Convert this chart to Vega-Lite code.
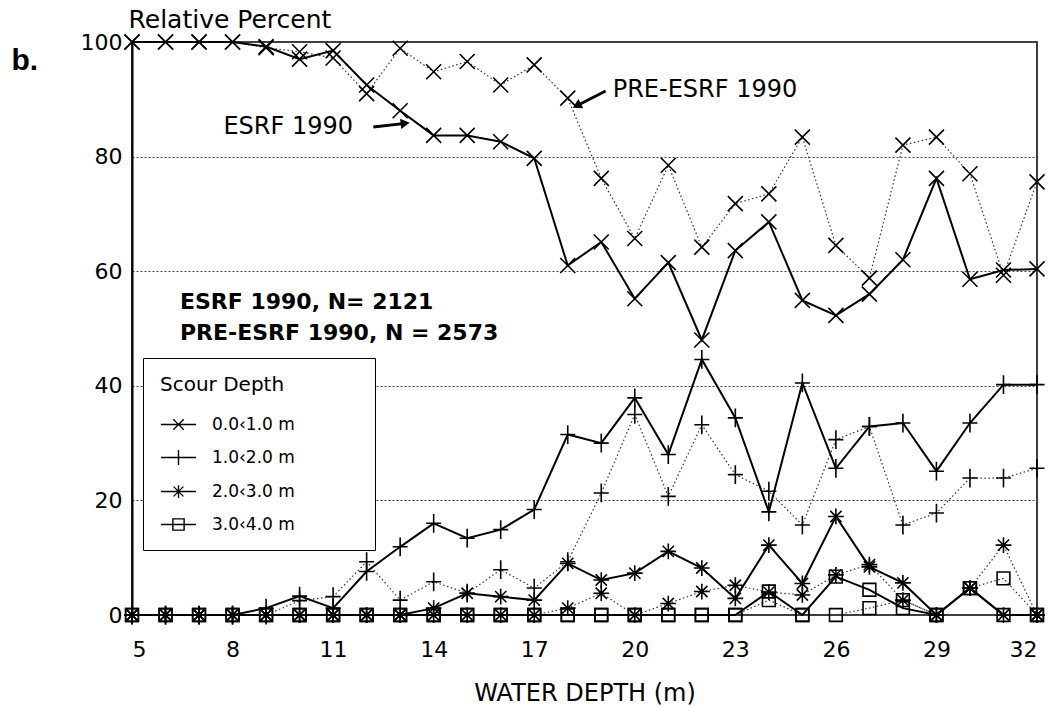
{
  "$schema": "https://vega.github.io/schema/vega-lite/v6.json",
  "width": 905,
  "height": 573,
  "autosize": {"type": "none"},
  "padding": {"left": 132, "top": 42, "right": 20, "bottom": 92},
  "background": "white",
  "config": {
    "font": "DejaVu Sans",
    "view": {"stroke": "black", "strokeWidth": 1.5},
    "axis": {"labelColor": "black", "titleColor": "black", "titleFontWeight": "normal"}
  },
  "data": {"values": [
    {"depth":5,"percent":100,"survey":"ESRF 1990","scour":"0.0‹1.0 m"},
    {"depth":6,"percent":100,"survey":"ESRF 1990","scour":"0.0‹1.0 m"},
    {"depth":7,"percent":100,"survey":"ESRF 1990","scour":"0.0‹1.0 m"},
    {"depth":8,"percent":100,"survey":"ESRF 1990","scour":"0.0‹1.0 m"},
    {"depth":9,"percent":99.2,"survey":"ESRF 1990","scour":"0.0‹1.0 m"},
    {"depth":10,"percent":97,"survey":"ESRF 1990","scour":"0.0‹1.0 m"},
    {"depth":11,"percent":98.5,"survey":"ESRF 1990","scour":"0.0‹1.0 m"},
    {"depth":12,"percent":92.5,"survey":"ESRF 1990","scour":"0.0‹1.0 m"},
    {"depth":13,"percent":88,"survey":"ESRF 1990","scour":"0.0‹1.0 m"},
    {"depth":14,"percent":83.7,"survey":"ESRF 1990","scour":"0.0‹1.0 m"},
    {"depth":15,"percent":83.7,"survey":"ESRF 1990","scour":"0.0‹1.0 m"},
    {"depth":16,"percent":82.6,"survey":"ESRF 1990","scour":"0.0‹1.0 m"},
    {"depth":17,"percent":79.7,"survey":"ESRF 1990","scour":"0.0‹1.0 m"},
    {"depth":18,"percent":61,"survey":"ESRF 1990","scour":"0.0‹1.0 m"},
    {"depth":19,"percent":65.1,"survey":"ESRF 1990","scour":"0.0‹1.0 m"},
    {"depth":20,"percent":55.2,"survey":"ESRF 1990","scour":"0.0‹1.0 m"},
    {"depth":21,"percent":61.5,"survey":"ESRF 1990","scour":"0.0‹1.0 m"},
    {"depth":22,"percent":48,"survey":"ESRF 1990","scour":"0.0‹1.0 m"},
    {"depth":23,"percent":63.6,"survey":"ESRF 1990","scour":"0.0‹1.0 m"},
    {"depth":24,"percent":68.6,"survey":"ESRF 1990","scour":"0.0‹1.0 m"},
    {"depth":25,"percent":54.9,"survey":"ESRF 1990","scour":"0.0‹1.0 m"},
    {"depth":26,"percent":52.3,"survey":"ESRF 1990","scour":"0.0‹1.0 m"},
    {"depth":27,"percent":56,"survey":"ESRF 1990","scour":"0.0‹1.0 m"},
    {"depth":28,"percent":62,"survey":"ESRF 1990","scour":"0.0‹1.0 m"},
    {"depth":29,"percent":76.2,"survey":"ESRF 1990","scour":"0.0‹1.0 m"},
    {"depth":30,"percent":58.6,"survey":"ESRF 1990","scour":"0.0‹1.0 m"},
    {"depth":31,"percent":60.2,"survey":"ESRF 1990","scour":"0.0‹1.0 m"},
    {"depth":32,"percent":60.4,"survey":"ESRF 1990","scour":"0.0‹1.0 m"},
    {"depth":5,"percent":100,"survey":"PRE-ESRF 1990","scour":"0.0‹1.0 m"},
    {"depth":6,"percent":100,"survey":"PRE-ESRF 1990","scour":"0.0‹1.0 m"},
    {"depth":7,"percent":100,"survey":"PRE-ESRF 1990","scour":"0.0‹1.0 m"},
    {"depth":8,"percent":100,"survey":"PRE-ESRF 1990","scour":"0.0‹1.0 m"},
    {"depth":9,"percent":99,"survey":"PRE-ESRF 1990","scour":"0.0‹1.0 m"},
    {"depth":10,"percent":98.3,"survey":"PRE-ESRF 1990","scour":"0.0‹1.0 m"},
    {"depth":11,"percent":97.2,"survey":"PRE-ESRF 1990","scour":"0.0‹1.0 m"},
    {"depth":12,"percent":91,"survey":"PRE-ESRF 1990","scour":"0.0‹1.0 m"},
    {"depth":13,"percent":98.9,"survey":"PRE-ESRF 1990","scour":"0.0‹1.0 m"},
    {"depth":14,"percent":94.8,"survey":"PRE-ESRF 1990","scour":"0.0‹1.0 m"},
    {"depth":15,"percent":96.6,"survey":"PRE-ESRF 1990","scour":"0.0‹1.0 m"},
    {"depth":16,"percent":92.5,"survey":"PRE-ESRF 1990","scour":"0.0‹1.0 m"},
    {"depth":17,"percent":96,"survey":"PRE-ESRF 1990","scour":"0.0‹1.0 m"},
    {"depth":18,"percent":90.2,"survey":"PRE-ESRF 1990","scour":"0.0‹1.0 m"},
    {"depth":19,"percent":76.2,"survey":"PRE-ESRF 1990","scour":"0.0‹1.0 m"},
    {"depth":20,"percent":65.7,"survey":"PRE-ESRF 1990","scour":"0.0‹1.0 m"},
    {"depth":21,"percent":78.5,"survey":"PRE-ESRF 1990","scour":"0.0‹1.0 m"},
    {"depth":22,"percent":64.2,"survey":"PRE-ESRF 1990","scour":"0.0‹1.0 m"},
    {"depth":23,"percent":71.8,"survey":"PRE-ESRF 1990","scour":"0.0‹1.0 m"},
    {"depth":24,"percent":73.5,"survey":"PRE-ESRF 1990","scour":"0.0‹1.0 m"},
    {"depth":25,"percent":83.4,"survey":"PRE-ESRF 1990","scour":"0.0‹1.0 m"},
    {"depth":26,"percent":64.5,"survey":"PRE-ESRF 1990","scour":"0.0‹1.0 m"},
    {"depth":27,"percent":58.8,"survey":"PRE-ESRF 1990","scour":"0.0‹1.0 m"},
    {"depth":28,"percent":82,"survey":"PRE-ESRF 1990","scour":"0.0‹1.0 m"},
    {"depth":29,"percent":83.4,"survey":"PRE-ESRF 1990","scour":"0.0‹1.0 m"},
    {"depth":30,"percent":77,"survey":"PRE-ESRF 1990","scour":"0.0‹1.0 m"},
    {"depth":31,"percent":59.3,"survey":"PRE-ESRF 1990","scour":"0.0‹1.0 m"},
    {"depth":32,"percent":75.6,"survey":"PRE-ESRF 1990","scour":"0.0‹1.0 m"},
    {"depth":5,"percent":0,"survey":"ESRF 1990","scour":"1.0‹2.0 m"},
    {"depth":6,"percent":0,"survey":"ESRF 1990","scour":"1.0‹2.0 m"},
    {"depth":7,"percent":0,"survey":"ESRF 1990","scour":"1.0‹2.0 m"},
    {"depth":8,"percent":0,"survey":"ESRF 1990","scour":"1.0‹2.0 m"},
    {"depth":9,"percent":1.2,"survey":"ESRF 1990","scour":"1.0‹2.0 m"},
    {"depth":10,"percent":3.3,"survey":"ESRF 1990","scour":"1.0‹2.0 m"},
    {"depth":11,"percent":1.2,"survey":"ESRF 1990","scour":"1.0‹2.0 m"},
    {"depth":12,"percent":7.6,"survey":"ESRF 1990","scour":"1.0‹2.0 m"},
    {"depth":13,"percent":11.9,"survey":"ESRF 1990","scour":"1.0‹2.0 m"},
    {"depth":14,"percent":16,"survey":"ESRF 1990","scour":"1.0‹2.0 m"},
    {"depth":15,"percent":13.4,"survey":"ESRF 1990","scour":"1.0‹2.0 m"},
    {"depth":16,"percent":14.9,"survey":"ESRF 1990","scour":"1.0‹2.0 m"},
    {"depth":17,"percent":18.4,"survey":"ESRF 1990","scour":"1.0‹2.0 m"},
    {"depth":18,"percent":31.5,"survey":"ESRF 1990","scour":"1.0‹2.0 m"},
    {"depth":19,"percent":30,"survey":"ESRF 1990","scour":"1.0‹2.0 m"},
    {"depth":20,"percent":37.9,"survey":"ESRF 1990","scour":"1.0‹2.0 m"},
    {"depth":21,"percent":28,"survey":"ESRF 1990","scour":"1.0‹2.0 m"},
    {"depth":22,"percent":44.6,"survey":"ESRF 1990","scour":"1.0‹2.0 m"},
    {"depth":23,"percent":34.4,"survey":"ESRF 1990","scour":"1.0‹2.0 m"},
    {"depth":24,"percent":18,"survey":"ESRF 1990","scour":"1.0‹2.0 m"},
    {"depth":25,"percent":40.5,"survey":"ESRF 1990","scour":"1.0‹2.0 m"},
    {"depth":26,"percent":25.6,"survey":"ESRF 1990","scour":"1.0‹2.0 m"},
    {"depth":27,"percent":32.9,"survey":"ESRF 1990","scour":"1.0‹2.0 m"},
    {"depth":28,"percent":33.5,"survey":"ESRF 1990","scour":"1.0‹2.0 m"},
    {"depth":29,"percent":25.1,"survey":"ESRF 1990","scour":"1.0‹2.0 m"},
    {"depth":30,"percent":33.5,"survey":"ESRF 1990","scour":"1.0‹2.0 m"},
    {"depth":31,"percent":40.2,"survey":"ESRF 1990","scour":"1.0‹2.0 m"},
    {"depth":32,"percent":40.2,"survey":"ESRF 1990","scour":"1.0‹2.0 m"},
    {"depth":5,"percent":0,"survey":"PRE-ESRF 1990","scour":"1.0‹2.0 m"},
    {"depth":6,"percent":0,"survey":"PRE-ESRF 1990","scour":"1.0‹2.0 m"},
    {"depth":7,"percent":0,"survey":"PRE-ESRF 1990","scour":"1.0‹2.0 m"},
    {"depth":8,"percent":0,"survey":"PRE-ESRF 1990","scour":"1.0‹2.0 m"},
    {"depth":9,"percent":0,"survey":"PRE-ESRF 1990","scour":"1.0‹2.0 m"},
    {"depth":10,"percent":2.5,"survey":"PRE-ESRF 1990","scour":"1.0‹2.0 m"},
    {"depth":11,"percent":3.2,"survey":"PRE-ESRF 1990","scour":"1.0‹2.0 m"},
    {"depth":12,"percent":9.3,"survey":"PRE-ESRF 1990","scour":"1.0‹2.0 m"},
    {"depth":13,"percent":2.6,"survey":"PRE-ESRF 1990","scour":"1.0‹2.0 m"},
    {"depth":14,"percent":5.8,"survey":"PRE-ESRF 1990","scour":"1.0‹2.0 m"},
    {"depth":15,"percent":3.8,"survey":"PRE-ESRF 1990","scour":"1.0‹2.0 m"},
    {"depth":16,"percent":7.9,"survey":"PRE-ESRF 1990","scour":"1.0‹2.0 m"},
    {"depth":17,"percent":4.7,"survey":"PRE-ESRF 1990","scour":"1.0‹2.0 m"},
    {"depth":18,"percent":9.3,"survey":"PRE-ESRF 1990","scour":"1.0‹2.0 m"},
    {"depth":19,"percent":21.3,"survey":"PRE-ESRF 1990","scour":"1.0‹2.0 m"},
    {"depth":20,"percent":35,"survey":"PRE-ESRF 1990","scour":"1.0‹2.0 m"},
    {"depth":21,"percent":20.7,"survey":"PRE-ESRF 1990","scour":"1.0‹2.0 m"},
    {"depth":22,"percent":33.2,"survey":"PRE-ESRF 1990","scour":"1.0‹2.0 m"},
    {"depth":23,"percent":24.5,"survey":"PRE-ESRF 1990","scour":"1.0‹2.0 m"},
    {"depth":24,"percent":21.6,"survey":"PRE-ESRF 1990","scour":"1.0‹2.0 m"},
    {"depth":25,"percent":15.7,"survey":"PRE-ESRF 1990","scour":"1.0‹2.0 m"},
    {"depth":26,"percent":30.6,"survey":"PRE-ESRF 1990","scour":"1.0‹2.0 m"},
    {"depth":27,"percent":32.9,"survey":"PRE-ESRF 1990","scour":"1.0‹2.0 m"},
    {"depth":28,"percent":15.7,"survey":"PRE-ESRF 1990","scour":"1.0‹2.0 m"},
    {"depth":29,"percent":17.8,"survey":"PRE-ESRF 1990","scour":"1.0‹2.0 m"},
    {"depth":30,"percent":23.9,"survey":"PRE-ESRF 1990","scour":"1.0‹2.0 m"},
    {"depth":31,"percent":23.9,"survey":"PRE-ESRF 1990","scour":"1.0‹2.0 m"},
    {"depth":32,"percent":25.6,"survey":"PRE-ESRF 1990","scour":"1.0‹2.0 m"},
    {"depth":5,"percent":0,"survey":"ESRF 1990","scour":"2.0‹3.0 m"},
    {"depth":6,"percent":0,"survey":"ESRF 1990","scour":"2.0‹3.0 m"},
    {"depth":7,"percent":0,"survey":"ESRF 1990","scour":"2.0‹3.0 m"},
    {"depth":8,"percent":0,"survey":"ESRF 1990","scour":"2.0‹3.0 m"},
    {"depth":9,"percent":0,"survey":"ESRF 1990","scour":"2.0‹3.0 m"},
    {"depth":10,"percent":0,"survey":"ESRF 1990","scour":"2.0‹3.0 m"},
    {"depth":11,"percent":0,"survey":"ESRF 1990","scour":"2.0‹3.0 m"},
    {"depth":12,"percent":0,"survey":"ESRF 1990","scour":"2.0‹3.0 m"},
    {"depth":13,"percent":0,"survey":"ESRF 1990","scour":"2.0‹3.0 m"},
    {"depth":14,"percent":1.2,"survey":"ESRF 1990","scour":"2.0‹3.0 m"},
    {"depth":15,"percent":3.8,"survey":"ESRF 1990","scour":"2.0‹3.0 m"},
    {"depth":16,"percent":3.2,"survey":"ESRF 1990","scour":"2.0‹3.0 m"},
    {"depth":17,"percent":2.6,"survey":"ESRF 1990","scour":"2.0‹3.0 m"},
    {"depth":18,"percent":9,"survey":"ESRF 1990","scour":"2.0‹3.0 m"},
    {"depth":19,"percent":6.1,"survey":"ESRF 1990","scour":"2.0‹3.0 m"},
    {"depth":20,"percent":7.3,"survey":"ESRF 1990","scour":"2.0‹3.0 m"},
    {"depth":21,"percent":11.1,"survey":"ESRF 1990","scour":"2.0‹3.0 m"},
    {"depth":22,"percent":8.2,"survey":"ESRF 1990","scour":"2.0‹3.0 m"},
    {"depth":23,"percent":2.9,"survey":"ESRF 1990","scour":"2.0‹3.0 m"},
    {"depth":24,"percent":12.2,"survey":"ESRF 1990","scour":"2.0‹3.0 m"},
    {"depth":25,"percent":5.5,"survey":"ESRF 1990","scour":"2.0‹3.0 m"},
    {"depth":26,"percent":17.2,"survey":"ESRF 1990","scour":"2.0‹3.0 m"},
    {"depth":27,"percent":8.4,"survey":"ESRF 1990","scour":"2.0‹3.0 m"},
    {"depth":28,"percent":5.6,"survey":"ESRF 1990","scour":"2.0‹3.0 m"},
    {"depth":29,"percent":0,"survey":"ESRF 1990","scour":"2.0‹3.0 m"},
    {"depth":30,"percent":4.7,"survey":"ESRF 1990","scour":"2.0‹3.0 m"},
    {"depth":31,"percent":0,"survey":"ESRF 1990","scour":"2.0‹3.0 m"},
    {"depth":32,"percent":0,"survey":"ESRF 1990","scour":"2.0‹3.0 m"},
    {"depth":5,"percent":0,"survey":"PRE-ESRF 1990","scour":"2.0‹3.0 m"},
    {"depth":6,"percent":0,"survey":"PRE-ESRF 1990","scour":"2.0‹3.0 m"},
    {"depth":7,"percent":0,"survey":"PRE-ESRF 1990","scour":"2.0‹3.0 m"},
    {"depth":8,"percent":0,"survey":"PRE-ESRF 1990","scour":"2.0‹3.0 m"},
    {"depth":9,"percent":0,"survey":"PRE-ESRF 1990","scour":"2.0‹3.0 m"},
    {"depth":10,"percent":0,"survey":"PRE-ESRF 1990","scour":"2.0‹3.0 m"},
    {"depth":11,"percent":0,"survey":"PRE-ESRF 1990","scour":"2.0‹3.0 m"},
    {"depth":12,"percent":0,"survey":"PRE-ESRF 1990","scour":"2.0‹3.0 m"},
    {"depth":13,"percent":0,"survey":"PRE-ESRF 1990","scour":"2.0‹3.0 m"},
    {"depth":14,"percent":0,"survey":"PRE-ESRF 1990","scour":"2.0‹3.0 m"},
    {"depth":15,"percent":0,"survey":"PRE-ESRF 1990","scour":"2.0‹3.0 m"},
    {"depth":16,"percent":0,"survey":"PRE-ESRF 1990","scour":"2.0‹3.0 m"},
    {"depth":17,"percent":0,"survey":"PRE-ESRF 1990","scour":"2.0‹3.0 m"},
    {"depth":18,"percent":1.2,"survey":"PRE-ESRF 1990","scour":"2.0‹3.0 m"},
    {"depth":19,"percent":3.8,"survey":"PRE-ESRF 1990","scour":"2.0‹3.0 m"},
    {"depth":20,"percent":0,"survey":"PRE-ESRF 1990","scour":"2.0‹3.0 m"},
    {"depth":21,"percent":2,"survey":"PRE-ESRF 1990","scour":"2.0‹3.0 m"},
    {"depth":22,"percent":4.1,"survey":"PRE-ESRF 1990","scour":"2.0‹3.0 m"},
    {"depth":23,"percent":5.2,"survey":"PRE-ESRF 1990","scour":"2.0‹3.0 m"},
    {"depth":24,"percent":4,"survey":"PRE-ESRF 1990","scour":"2.0‹3.0 m"},
    {"depth":25,"percent":3.5,"survey":"PRE-ESRF 1990","scour":"2.0‹3.0 m"},
    {"depth":26,"percent":7,"survey":"PRE-ESRF 1990","scour":"2.0‹3.0 m"},
    {"depth":27,"percent":8.8,"survey":"PRE-ESRF 1990","scour":"2.0‹3.0 m"},
    {"depth":28,"percent":2.6,"survey":"PRE-ESRF 1990","scour":"2.0‹3.0 m"},
    {"depth":29,"percent":0,"survey":"PRE-ESRF 1990","scour":"2.0‹3.0 m"},
    {"depth":30,"percent":4.7,"survey":"PRE-ESRF 1990","scour":"2.0‹3.0 m"},
    {"depth":31,"percent":12.2,"survey":"PRE-ESRF 1990","scour":"2.0‹3.0 m"},
    {"depth":32,"percent":0,"survey":"PRE-ESRF 1990","scour":"2.0‹3.0 m"},
    {"depth":5,"percent":0,"survey":"ESRF 1990","scour":"3.0‹4.0 m"},
    {"depth":6,"percent":0,"survey":"ESRF 1990","scour":"3.0‹4.0 m"},
    {"depth":7,"percent":0,"survey":"ESRF 1990","scour":"3.0‹4.0 m"},
    {"depth":8,"percent":0,"survey":"ESRF 1990","scour":"3.0‹4.0 m"},
    {"depth":9,"percent":0,"survey":"ESRF 1990","scour":"3.0‹4.0 m"},
    {"depth":10,"percent":0,"survey":"ESRF 1990","scour":"3.0‹4.0 m"},
    {"depth":11,"percent":0,"survey":"ESRF 1990","scour":"3.0‹4.0 m"},
    {"depth":12,"percent":0,"survey":"ESRF 1990","scour":"3.0‹4.0 m"},
    {"depth":13,"percent":0,"survey":"ESRF 1990","scour":"3.0‹4.0 m"},
    {"depth":14,"percent":0,"survey":"ESRF 1990","scour":"3.0‹4.0 m"},
    {"depth":15,"percent":0,"survey":"ESRF 1990","scour":"3.0‹4.0 m"},
    {"depth":16,"percent":0,"survey":"ESRF 1990","scour":"3.0‹4.0 m"},
    {"depth":17,"percent":0,"survey":"ESRF 1990","scour":"3.0‹4.0 m"},
    {"depth":18,"percent":0,"survey":"ESRF 1990","scour":"3.0‹4.0 m"},
    {"depth":19,"percent":0,"survey":"ESRF 1990","scour":"3.0‹4.0 m"},
    {"depth":20,"percent":0,"survey":"ESRF 1990","scour":"3.0‹4.0 m"},
    {"depth":21,"percent":0,"survey":"ESRF 1990","scour":"3.0‹4.0 m"},
    {"depth":22,"percent":0,"survey":"ESRF 1990","scour":"3.0‹4.0 m"},
    {"depth":23,"percent":0,"survey":"ESRF 1990","scour":"3.0‹4.0 m"},
    {"depth":24,"percent":4.1,"survey":"ESRF 1990","scour":"3.0‹4.0 m"},
    {"depth":25,"percent":0,"survey":"ESRF 1990","scour":"3.0‹4.0 m"},
    {"depth":26,"percent":6.7,"survey":"ESRF 1990","scour":"3.0‹4.0 m"},
    {"depth":27,"percent":4.4,"survey":"ESRF 1990","scour":"3.0‹4.0 m"},
    {"depth":28,"percent":1.2,"survey":"ESRF 1990","scour":"3.0‹4.0 m"},
    {"depth":29,"percent":0,"survey":"ESRF 1990","scour":"3.0‹4.0 m"},
    {"depth":30,"percent":4.7,"survey":"ESRF 1990","scour":"3.0‹4.0 m"},
    {"depth":31,"percent":0,"survey":"ESRF 1990","scour":"3.0‹4.0 m"},
    {"depth":32,"percent":0,"survey":"ESRF 1990","scour":"3.0‹4.0 m"},
    {"depth":5,"percent":0,"survey":"PRE-ESRF 1990","scour":"3.0‹4.0 m"},
    {"depth":6,"percent":0,"survey":"PRE-ESRF 1990","scour":"3.0‹4.0 m"},
    {"depth":7,"percent":0,"survey":"PRE-ESRF 1990","scour":"3.0‹4.0 m"},
    {"depth":8,"percent":0,"survey":"PRE-ESRF 1990","scour":"3.0‹4.0 m"},
    {"depth":9,"percent":0,"survey":"PRE-ESRF 1990","scour":"3.0‹4.0 m"},
    {"depth":10,"percent":0,"survey":"PRE-ESRF 1990","scour":"3.0‹4.0 m"},
    {"depth":11,"percent":0,"survey":"PRE-ESRF 1990","scour":"3.0‹4.0 m"},
    {"depth":12,"percent":0,"survey":"PRE-ESRF 1990","scour":"3.0‹4.0 m"},
    {"depth":13,"percent":0,"survey":"PRE-ESRF 1990","scour":"3.0‹4.0 m"},
    {"depth":14,"percent":0,"survey":"PRE-ESRF 1990","scour":"3.0‹4.0 m"},
    {"depth":15,"percent":0,"survey":"PRE-ESRF 1990","scour":"3.0‹4.0 m"},
    {"depth":16,"percent":0,"survey":"PRE-ESRF 1990","scour":"3.0‹4.0 m"},
    {"depth":17,"percent":0,"survey":"PRE-ESRF 1990","scour":"3.0‹4.0 m"},
    {"depth":18,"percent":0,"survey":"PRE-ESRF 1990","scour":"3.0‹4.0 m"},
    {"depth":19,"percent":0,"survey":"PRE-ESRF 1990","scour":"3.0‹4.0 m"},
    {"depth":20,"percent":0,"survey":"PRE-ESRF 1990","scour":"3.0‹4.0 m"},
    {"depth":21,"percent":0,"survey":"PRE-ESRF 1990","scour":"3.0‹4.0 m"},
    {"depth":22,"percent":0,"survey":"PRE-ESRF 1990","scour":"3.0‹4.0 m"},
    {"depth":23,"percent":0,"survey":"PRE-ESRF 1990","scour":"3.0‹4.0 m"},
    {"depth":24,"percent":2.6,"survey":"PRE-ESRF 1990","scour":"3.0‹4.0 m"},
    {"depth":25,"percent":0,"survey":"PRE-ESRF 1990","scour":"3.0‹4.0 m"},
    {"depth":26,"percent":0,"survey":"PRE-ESRF 1990","scour":"3.0‹4.0 m"},
    {"depth":27,"percent":1.2,"survey":"PRE-ESRF 1990","scour":"3.0‹4.0 m"},
    {"depth":28,"percent":2.6,"survey":"PRE-ESRF 1990","scour":"3.0‹4.0 m"},
    {"depth":29,"percent":0,"survey":"PRE-ESRF 1990","scour":"3.0‹4.0 m"},
    {"depth":30,"percent":4.7,"survey":"PRE-ESRF 1990","scour":"3.0‹4.0 m"},
    {"depth":31,"percent":6.4,"survey":"PRE-ESRF 1990","scour":"3.0‹4.0 m"},
    {"depth":32,"percent":0,"survey":"PRE-ESRF 1990","scour":"3.0‹4.0 m"}
  ]},
  "layer": [
    {
      "transform": [{"filter": "datum.survey === 'PRE-ESRF 1990'"}],
      "mark": {"type": "line", "color": "#333333", "strokeWidth": 1.2, "strokeDash": [1.5, 2.5]},
      "encoding": {
        "x": {"field": "depth", "type": "quantitative", "scale": {"domain": [5, 32], "nice": false, "zero": false},
          "axis": {"values": [5, 8, 11, 14, 17, 20, 23, 26, 29, 32], "grid": false, "ticks": false, "tickSize": 0, "domain": false,
            "labelFontSize": 22, "labelPadding": 24, "labelFont": "DejaVu Sans",
            "title": "WATER DEPTH (m)", "titleFontSize": 24, "titleFont": "DejaVu Sans", "titleBaseline": "alphabetic", "titleY": 85}},
        "y": {"field": "percent", "type": "quantitative", "scale": {"domain": [0, 100], "nice": false},
          "axis": {"values": [0, 20, 40, 60, 80, 100], "grid": true, "gridDash": [2, 2], "gridColor": "#444444", "gridWidth": 1,
            "ticks": false, "tickSize": 0, "domain": true, "domainColor": "black", "domainWidth": 2,
            "labelFontSize": 22, "labelPadding": 10, "labelFont": "DejaVu Sans",
            "title": "Relative Percent", "titleAngle": 0, "titleAlign": "left", "titleBaseline": "alphabetic",
            "titleX": -4, "titleY": -15, "titleFontSize": 25, "titleFont": "DejaVu Sans"}},
        "detail": {"field": "scour"}
      }
    },
    {
      "transform": [{"filter": "datum.survey === 'ESRF 1990'"}],
      "mark": {"type": "line", "color": "black", "strokeWidth": 2},
      "encoding": {
        "x": {"field": "depth", "type": "quantitative"},
        "y": {"field": "percent", "type": "quantitative"},
        "detail": {"field": "scour"}
      }
    },
    {
      "mark": {"type": "point", "filled": false, "stroke": "black", "strokeWidth": 1.6, "size": 225, "opacity": 1},
      "encoding": {
        "x": {"field": "depth", "type": "quantitative"},
        "y": {"field": "percent", "type": "quantitative"},
        "shape": {"field": "scour", "type": "nominal", "legend": null,
          "scale": {"domain": ["0.0‹1.0 m", "1.0‹2.0 m", "2.0‹3.0 m", "3.0‹4.0 m"],
            "range": ["M-1,-1L1,1M-1,1L1,-1", "M-1,0L1,0M0,-1.25L0,1.25", "M-1.05,0L1.05,0M0,-1.05L0,1.05M-0.75,-0.75L0.75,0.75M-0.75,0.75L0.75,-0.75", "M-0.85,-0.85L0.85,-0.85L0.85,0.85L-0.85,0.85Z"]}}
      }
    },
    {
      "transform": [{"filter": "datum.depth === 5 && datum.survey === 'ESRF 1990'"}],
      "mark": {"type": "point", "filled": false, "stroke": "black", "strokeWidth": 1.4, "size": 225, "opacity": 0},
      "encoding": {
        "x": {"field": "depth", "type": "quantitative"},
        "y": {"field": "percent", "type": "quantitative"},
        "shape": {"field": "scour", "type": "nominal",
          "scale": {"domain": ["0.0‹1.0 m", "1.0‹2.0 m", "2.0‹3.0 m", "3.0‹4.0 m"],
            "range": ["M-2.35,0L2.35,0M-0.7,-0.7L0.7,0.7M-0.7,0.7L0.7,-0.7", "M-2.35,0L2.35,0M0,-1L0,1", "M-2.35,0L2.35,0M0,-0.85L0,0.85M-0.65,-0.65L0.65,0.65M-0.65,0.65L0.65,-0.65", "M-2.35,0L2.35,0M-0.75,-0.75L0.75,-0.75L0.75,0.75L-0.75,0.75Z"]},
          "legend": {
            "title": "Scour Depth",
            "titleLimit": 400,
            "labelLimit": 400,
            "labelExpr": "datum.label + '\u2800\u2800\u2800\u2800\u2800'",
            "orient": "none", "legendX": 11, "legendY": 316,
            "strokeColor": "black", "padding": 17, "fillColor": "white",
            "titleFont": "DejaVu Sans", "titleFontSize": 20, "titleFontWeight": "normal", "titleColor": "black", "titlePadding": 21,
            "labelFont": "DejaVu Sans", "labelFontSize": 17, "labelColor": "black",
            "symbolSize": 225, "symbolStrokeWidth": 1.4, "symbolStrokeColor": "black", "symbolFillColor": "transparent", "symbolOpacity": 1,
            "symbolOffset": 10, "labelOffset": 25, "rowPadding": 14
          }}
      }
    },
    {
      "data": {"values": [{"label": "ESRF 1990"}]},
      "mark": {"type": "text", "fontSize": 24, "align": "center", "baseline": "middle", "color": "black", "font": "DejaVu Sans"},
      "encoding": {"x": {"datum": 9.66}, "y": {"datum": 85.2}, "text": {"field": "label"}}
    },
    {
      "data": {"values": [{"label": "ESRF 1990 arrow"}]},
      "mark": {"type": "rule", "color": "black", "strokeWidth": 3},
      "encoding": {"x": {"datum": 12.2}, "y": {"datum": 85.17}, "x2": {"datum": 13.15}, "y2": {"datum": 85.8}}
    },
    {
      "data": {"values": [{"label": "ESRF 1990 arrow"}]},
      "mark": {"type": "point", "shape": "triangle-right", "filled": true, "color": "black", "size": 110, "angle": -7, "opacity": 1},
      "encoding": {"x": {"datum": 13.15}, "y": {"datum": 85.8}}
    },
    {
      "data": {"values": [{"label": "PRE-ESRF 1990"}]},
      "mark": {"type": "text", "fontSize": 24, "align": "left", "baseline": "middle", "color": "black", "font": "DejaVu Sans"},
      "encoding": {"x": {"datum": 19.34}, "y": {"datum": 91.6}, "text": {"field": "label"}}
    },
    {
      "data": {"values": [{"label": "PRE-ESRF 1990 arrow"}]},
      "mark": {"type": "rule", "color": "black", "strokeWidth": 3},
      "encoding": {"x": {"datum": 19.13}, "y": {"datum": 91.45}, "x2": {"datum": 18.27}, "y2": {"datum": 88.88}}
    },
    {
      "data": {"values": [{"label": "PRE-ESRF 1990 arrow"}]},
      "mark": {"type": "point", "shape": "triangle-right", "filled": true, "color": "black", "size": 110, "angle": 152.7, "opacity": 1},
      "encoding": {"x": {"datum": 18.27}, "y": {"datum": 88.88}}
    },
    {
      "data": {"values": [{"label": "ESRF 1990, N= 2121"}]},
      "mark": {"type": "text", "fontSize": 22, "fontWeight": "bold", "align": "left", "baseline": "middle", "color": "black", "font": "DejaVu Sans"},
      "encoding": {"x": {"datum": 6.43}, "y": {"datum": 54.6}, "text": {"field": "label"}}
    },
    {
      "data": {"values": [{"label": "PRE-ESRF 1990, N = 2573"}]},
      "mark": {"type": "text", "fontSize": 22, "fontWeight": "bold", "align": "left", "baseline": "middle", "color": "black", "font": "DejaVu Sans"},
      "encoding": {"x": {"datum": 6.43}, "y": {"datum": 49.2}, "text": {"field": "label"}}
    },
    {
      "data": {"values": [{"label": "b."}]},
      "mark": {"type": "text", "fontSize": 30, "fontWeight": "bold", "align": "center", "baseline": "middle", "color": "black", "font": "Liberation Sans"},
      "encoding": {"x": {"datum": 1.8}, "y": {"datum": 96.7}, "text": {"field": "label"}}
    }
  ],
  "resolve": {"scale": {"shape": "independent"}}
}
